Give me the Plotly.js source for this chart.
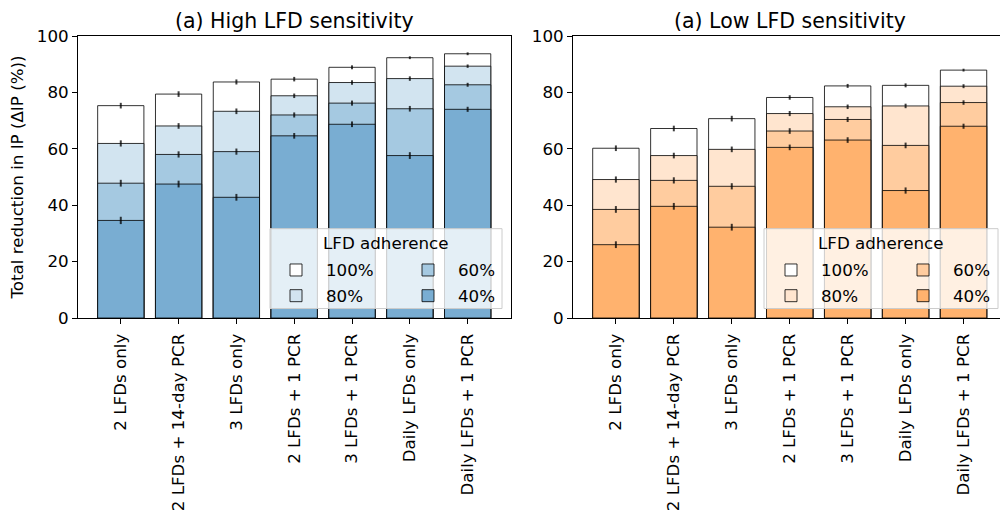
<!DOCTYPE html>
<html>
<head>
<meta charset="utf-8">
<script src="https://cdn.plot.ly/plotly-3.0.1.min.js"></script>
<style>
html,body{margin:0;padding:0;overflow:hidden;background:#fff;}
#chart{width:1007px;height:515px;}
</style>
</head>
<body>
<div id="chart"></div>
<script>
// ---- data ----
const categories = ["2 LFDs only", "2 LFDs + 14-day PCR", "3 LFDs only", "2 LFDs + 1 PCR",
                    "3 LFDs + 1 PCR", "Daily LFDs only", "Daily LFDs + 1 PCR"];
const adherenceLevels = ["100%", "80%", "60%", "40%"];

// High LFD sensitivity
const high100 = [75.3, 79.4, 83.7, 84.7, 88.9, 92.3, 93.7];
const high80  = [61.9, 68.1, 73.3, 78.8, 83.5, 84.9, 89.3];
const high60  = [47.8, 58.0, 59.0, 72.0, 76.2, 74.2, 82.7];
const high40  = [34.6, 47.5, 42.8, 64.6, 68.7, 57.6, 74.0];
const highErr100 = [1.0, 1.0, 0.9, 0.8, 0.7, 0.5, 0.5];
const highErr80  = [1.1, 1.0, 1.0, 0.8, 0.8, 0.8, 0.6];
const highErr60  = [1.2, 1.1, 1.1, 0.9, 0.9, 1.0, 0.7];
const highErr40  = [1.3, 1.2, 1.2, 1.0, 1.0, 1.2, 0.9];

// Low LFD sensitivity
const low100 = [60.2, 67.2, 70.7, 78.2, 82.3, 82.5, 87.9];
const low80  = [49.1, 57.6, 59.8, 72.5, 74.9, 75.2, 82.2];
const low60  = [38.5, 48.8, 46.7, 66.3, 70.4, 61.2, 76.4];
const low40  = [26.0, 39.6, 32.2, 60.5, 63.1, 45.2, 68.0];
const lowErr100 = [1.0, 1.0, 1.0, 0.8, 0.7, 0.7, 0.5];
const lowErr80  = [1.1, 1.0, 1.0, 0.9, 0.8, 0.8, 0.7];
const lowErr60  = [1.2, 1.1, 1.1, 1.0, 0.9, 1.0, 0.8];
const lowErr40  = [1.2, 1.2, 1.2, 1.0, 1.0, 1.1, 0.9];

const yTicks = [0, 20, 40, 60, 80, 100];

// ---- styles ----
const blueFills   = ["#ffffff", "rgb(210,228,240)", "rgb(165,201,225)", "rgb(121,173,210)"];
const orangeFills = ["#ffffff", "rgb(255,229,207)", "rgb(255,204,159)", "rgb(255,178,110)"];
const font = "DejaVu Sans, Verdana, sans-serif";
const FS = 16.7, TFS = 20.5;

const highVals = [high100, high80, high60, high40];
const highErrs = [highErr100, highErr80, highErr60, highErr40];
const lowVals  = [low100, low80, low60, low40];
const lowErrs  = [lowErr100, lowErr80, lowErr60, lowErr40];

// legend column assignment: col1 = 100%, 80% ; col2 = 60%, 40%
const colOf = [0, 0, 1, 1];

function makeTraces(vals, errs, fills, xa, ya, legends, prefix) {
  return adherenceLevels.map((lvl, i) => ({
    type: "bar",
    name: lvl,
    x: categories,
    y: vals[i],
    xaxis: xa, yaxis: ya,
    legend: legends[colOf[i]],
    legendgroup: prefix + i,
    marker: {color: fills[i], line: {color: "rgba(0,0,0,0.8)", width: 1}},
    error_y: {type: "data", array: errs[i], visible: true, color: "rgba(0,0,0,0.75)", thickness: 2, width: 0},
    hoverinfo: "x+y+name"
  }));
}

const traces = [
  ...makeTraces(highVals, highErrs, blueFills, "x", "y", ["legend", "legend2"], "h"),
  ...makeTraces(lowVals, lowErrs, orangeFills, "x2", "y2", ["legend3", "legend4"], "l")
];

const W = 1007, L = 78;
const px = v => (v - L) / (W - L);
const plotTop = 36, plotBot = 318.5, plotH = plotBot - plotTop;
const py = v => (plotBot - v) / plotH;

const legendBase = {
  orientation: "v", bgcolor: "rgba(0,0,0,0)", borderwidth: 0,
  font: {family: font, size: FS, color: "#000"},
  itemwidth: 50, tracegroupgap: 1, traceorder: "grouped",
  xanchor: "left", yanchor: "top", y: py(253)
};

const axisCommon = {
  showline: true, linecolor: "#000", linewidth: 1, mirror: true,
  ticks: "outside", ticklen: 5, tickcolor: "#000", tickwidth: 1,
  showgrid: false, zeroline: false,
  tickfont: {family: font, size: FS, color: "#000"}
};

const layout = {
  width: W, height: 515,
  margin: {l: L, r: 0, t: plotTop, b: 515 - plotBot},
  paper_bgcolor: "#fff", plot_bgcolor: "#fff",
  barmode: "overlay", bargap: 0.2,
  font: {family: font, size: FS, color: "#000"},
  xaxis: Object.assign({}, axisCommon, {domain: [0, px(511)], range: [-0.74, 6.75], tickangle: -90, anchor: "y", ticklabelstandoff: 3}),
  yaxis: Object.assign({}, axisCommon, {domain: [0, 1], range: [0, 100], tickvals: yTicks, anchor: "x",
    title: {text: "Total reduction in IP (ΔIP (%))", font: {family: font, size: FS, color: "#000"}, standoff: 8}}),
  xaxis2: Object.assign({}, axisCommon, {domain: [px(573), 1], range: [-0.74, 6.75], tickangle: -90, anchor: "y2", ticklabelstandoff: 3}),
  yaxis2: Object.assign({}, axisCommon, {domain: [0, 1], range: [0, 100], tickvals: yTicks, anchor: "x2"}),
  legend:  Object.assign({}, legendBase, {x: px(266)}),
  legend2: Object.assign({}, legendBase, {x: px(398)}),
  legend3: Object.assign({}, legendBase, {x: px(761)}),
  legend4: Object.assign({}, legendBase, {x: px(893)}),
  shapes: [
    {type: "rect", xref: "paper", yref: "paper", layer: "above",
     x0: px(270), x1: px(502), y0: py(309), y1: py(229),
     fillcolor: "rgba(255,255,255,0.8)", line: {color: "rgba(204,204,204,1)", width: 1}},
    {type: "rect", xref: "paper", yref: "paper", layer: "above",
     x0: px(764), x1: px(998), y0: py(309), y1: py(229),
     fillcolor: "rgba(255,255,255,0.8)", line: {color: "rgba(204,204,204,1)", width: 1}}
  ],
  annotations: [
    {text: "(a) High LFD sensitivity", xref: "paper", yref: "paper", x: px(294.5), y: 1,
     xanchor: "center", yanchor: "bottom", yshift: 1, showarrow: false,
     font: {family: font, size: TFS, color: "#000"}},
    {text: "(a) Low LFD sensitivity", xref: "paper", yref: "paper", x: px(790), y: 1,
     xanchor: "center", yanchor: "bottom", yshift: 1, showarrow: false,
     font: {family: font, size: TFS, color: "#000"}},
    {text: "LFD adherence", xref: "paper", yref: "paper", x: px(386), y: py(243),
     xanchor: "center", yanchor: "middle", showarrow: false,
     font: {family: font, size: FS, color: "#000"}},
    {text: "LFD adherence", xref: "paper", yref: "paper", x: px(881), y: py(243),
     xanchor: "center", yanchor: "middle", showarrow: false,
     font: {family: font, size: FS, color: "#000"}}
  ]
};

Plotly.newPlot("chart", traces, layout, {displayModeBar: false, staticPlot: true});
</script>
</body>
</html>
